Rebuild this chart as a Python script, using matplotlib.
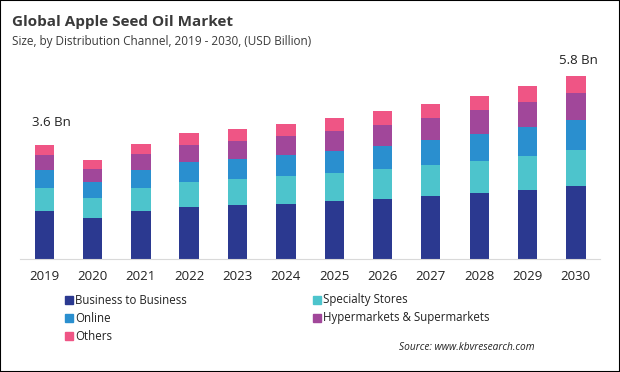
import numpy as np
import matplotlib
matplotlib.use("Agg")
from matplotlib import pyplot as plt
from matplotlib.patches import Rectangle

plt.rcParams['font.family'] = ['Open Sans', 'DejaVu Sans']

# data (USD Billion)
years = ['2019', '2020', '2021', '2022', '2023', '2024',
         '2025', '2026', '2027', '2028', '2029', '2030']
b2b = [1.52, 1.30, 1.52, 1.65, 1.71, 1.74, 1.84, 1.90, 1.99, 2.09, 2.18, 2.31]
specialty = [0.73, 0.63, 0.73, 0.79, 0.82, 0.89, 0.89, 0.95, 0.98, 1.01, 1.08, 1.14]
online = [0.57, 0.52, 0.57, 0.63, 0.63, 0.66, 0.70, 0.73, 0.79, 0.85, 0.92, 0.95]
hyper = [0.47, 0.40, 0.51, 0.54, 0.57, 0.60, 0.63, 0.66, 0.70, 0.76, 0.79, 0.85]
others = [0.32, 0.28, 0.32, 0.38, 0.38, 0.38, 0.41, 0.44, 0.47, 0.47, 0.51, 0.54]

series = [
    ('Business to Business', b2b, '#2b3990'),
    ('Specialty Stores', specialty, '#4dc4cc'),
    ('Online', online, '#2a8fcf'),
    ('Hypermarkets & Supermarkets', hyper, '#a1479a'),
    ('Others', others, '#ef5585'),
]

W, H = 620, 372
fig = plt.figure(figsize=(W / 100, H / 100), dpi=100)
fig.patches.append(Rectangle((0, 0), 1, 1, transform=fig.transFigure,
                             fill=False, ec='black', lw=1.5))

ax = fig.add_axes([20 / W, (H - 259) / H, 580 / W, 205 / H])
x = np.arange(len(years))
bottom = np.zeros(len(years))
for name, vals, col in series:
    ax.bar(x, vals, width=0.4, bottom=bottom, color=col, label=name)
    bottom += np.array(vals)

ax.set_xlim(-0.5, 11.5)
ax.set_ylim(0, 6.5)
ax.set_yticks([])
for s in ['top', 'right', 'left']:
    ax.spines[s].set_visible(False)
ax.spines['bottom'].set_color('#d9d9d9')
ax.set_xticks(x)
ax.set_xticklabels(years, fontsize=9.5, color='#222222')
ax.tick_params(axis='x', length=0, pad=8)

ax.text(-0.25, bottom[0] + 0.5, '3.6 Bn', fontsize=9.5, ha='left', va='bottom', color='#222222')
ax.text(11.45, bottom[-1] + 0.3, '5.8 Bn', fontsize=9.5, ha='right', va='bottom', color='#222222')

fig.text(12 / W, 1 - 22 / H, 'Global Apple Seed Oil Market', fontsize=11,
         fontweight='bold', color='#3a3a3a', va='center', ha='left')
fig.text(12 / W, 1 - 42 / H, 'Size, by Distribution Channel, 2019 - 2030, (USD Billion)',
         fontsize=8.5, color='#3a3a3a', va='center', ha='left')

# legend, two columns
order = [0, 2, 4, 1, 3]
for k, i in enumerate(order):
    name, _, col = series[i]
    colx = 65 if k < 3 else 313
    rowy = [300, 318, 336][k if k < 3 else k - 3]
    fig.patches.append(Rectangle((colx / W, 1 - (rowy + 4) / H), 8 / W, 8 / H,
                                 transform=fig.transFigure, color=col))
    fig.text((colx + 10) / W, 1 - rowy / H, name, fontsize=8.3,
             color='#222222', va='center', ha='left')

fig.text(535 / W, 1 - 348 / H, 'Source: www.kbvresearch.com', fontsize=7.3,
         style='italic', color='#222222', va='center', ha='right')

fig.savefig('out.png', dpi=100)
